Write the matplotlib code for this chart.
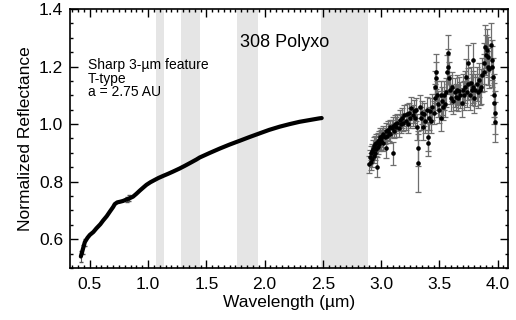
import numpy as np
import matplotlib
matplotlib.use("Agg")
import matplotlib.pyplot as plt
from matplotlib.ticker import MultipleLocator

plt.rcParams['font.family'] = ['Liberation Sans', 'DejaVu Sans']

# visible / near-IR spectrum (dense, small errors)
vis_wl = [0.423, 0.440, 0.457, 0.480, 0.500, 0.530, 0.557, 0.590, 0.614, 0.645,
          0.672, 0.700, 0.714, 0.735, 0.757, 0.785, 0.815, 0.840, 0.871, 0.900,
          0.929, 0.960, 0.986, 1.020, 1.057, 1.090, 1.129, 1.170, 1.214, 1.272,
          1.315, 1.370, 1.415, 1.443, 1.530, 1.615, 1.700, 1.786, 1.870, 1.958,
          2.040, 2.129, 2.215, 2.300, 2.385, 2.470, 2.490]
vis_refl = [0.540, 0.565, 0.590, 0.605, 0.615, 0.625, 0.638, 0.652, 0.665, 0.680,
            0.696, 0.712, 0.722, 0.728, 0.730, 0.733, 0.738, 0.742, 0.748, 0.758,
            0.769, 0.780, 0.789, 0.798, 0.806, 0.813, 0.820, 0.827, 0.835, 0.846,
            0.855, 0.867, 0.877, 0.884, 0.900, 0.915, 0.929, 0.942, 0.955, 0.968,
            0.980, 0.991, 1.000, 1.008, 1.014, 1.020, 1.021]
vis_err_wl = [0.423, 0.440, 0.457, 0.820, 0.840]
vis_err_refl = [0.540, 0.565, 0.590, 0.738, 0.742]
vis_err = [0.020, 0.015, 0.012, 0.010, 0.010]

# 3-um region (noisy, with error bars)
ir_wl = [2.900, 2.905, 2.910, 2.915, 2.920, 2.925, 2.930, 2.935, 2.940, 2.945,
         2.950, 2.955, 2.960, 2.965, 2.970, 2.975, 2.980, 2.985, 2.990, 2.995,
         3.000, 3.010, 3.015, 3.020, 3.030, 3.040, 3.045, 3.050, 3.060, 3.070,
         3.075, 3.080, 3.090, 3.100, 3.105, 3.110, 3.120, 3.130, 3.140, 3.150,
         3.160, 3.170, 3.180, 3.190, 3.200, 3.210, 3.220, 3.230, 3.240, 3.250,
         3.260, 3.270, 3.280, 3.290, 3.300, 3.310, 3.315, 3.320, 3.330, 3.340,
         3.350, 3.360, 3.370, 3.380, 3.390, 3.400, 3.405, 3.410, 3.420, 3.430,
         3.440, 3.450, 3.460, 3.465, 3.470, 3.475, 3.480, 3.490, 3.500, 3.510,
         3.515, 3.520, 3.530, 3.540, 3.550, 3.560, 3.565, 3.570, 3.575, 3.580,
         3.590, 3.600, 3.610, 3.620, 3.630, 3.640, 3.650, 3.660, 3.670, 3.680,
         3.690, 3.700, 3.710, 3.720, 3.730, 3.740, 3.745, 3.750, 3.760, 3.770,
         3.780, 3.785, 3.790, 3.800, 3.810, 3.820, 3.830, 3.840, 3.850, 3.860,
         3.870, 3.880, 3.885, 3.890, 3.900, 3.910, 3.915, 3.920, 3.930, 3.940,
         3.950, 3.955, 3.960, 3.965, 3.970, 3.975, 3.980]
ir_refl = [0.860, 0.885, 0.870, 0.900, 0.880, 0.905, 0.915, 0.890, 0.925, 0.900,
           0.930, 0.915, 0.935, 0.852, 0.940, 0.920, 0.945, 0.930, 0.955, 0.940,
           0.950, 0.960, 0.935, 0.965, 0.955, 0.916, 0.975, 0.960, 0.980, 0.970,
           0.990, 0.965, 0.985, 0.899, 0.995, 0.975, 1.000, 0.990, 1.005, 0.985,
           1.015, 1.000, 1.020, 1.005, 1.030, 1.010, 1.035, 1.000, 1.040, 1.020,
           1.055, 1.030, 1.045, 1.020, 1.050, 0.990, 0.864, 0.916, 1.060, 1.020,
           1.040, 0.990, 1.035, 1.010, 1.050, 0.956, 0.933, 1.020, 1.045, 1.010,
           1.060, 1.040, 1.090, 1.130, 1.182, 1.160, 1.100, 1.070, 1.050, 1.100,
           1.020, 1.080, 1.060, 1.100, 1.070, 1.110, 1.180, 1.246, 1.200, 1.160,
           1.120, 1.090, 1.130, 1.080, 1.110, 1.095, 1.120, 1.090, 1.115, 1.100,
           1.075, 1.120, 1.100, 1.130, 1.165, 1.110, 1.211, 1.140, 1.100, 1.142,
           1.120, 1.223, 1.130, 1.090, 1.118, 1.140, 1.110, 1.153, 1.120, 1.130,
           1.170, 1.211, 1.180, 1.269, 1.240, 1.257, 1.200, 1.234, 1.190, 1.275,
           1.223, 1.200, 1.165, 1.100, 1.072, 1.008, 1.040]
ir_err = [0.030, 0.025, 0.030, 0.025, 0.030, 0.025, 0.030, 0.025, 0.030, 0.025,
          0.030, 0.025, 0.030, 0.035, 0.030, 0.025, 0.030, 0.025, 0.030, 0.030,
          0.030, 0.025, 0.030, 0.030, 0.025, 0.035, 0.030, 0.025, 0.030, 0.030,
          0.025, 0.030, 0.030, 0.040, 0.030, 0.025, 0.030, 0.035, 0.030, 0.030,
          0.035, 0.030, 0.035, 0.030, 0.035, 0.030, 0.035, 0.030, 0.035, 0.035,
          0.040, 0.035, 0.040, 0.035, 0.040, 0.045, 0.100, 0.060, 0.040, 0.040,
          0.040, 0.045, 0.040, 0.040, 0.045, 0.050, 0.045, 0.040, 0.045, 0.040,
          0.045, 0.040, 0.050, 0.055, 0.060, 0.055, 0.050, 0.045, 0.045, 0.050,
          0.045, 0.050, 0.045, 0.050, 0.045, 0.050, 0.060, 0.065, 0.060, 0.055,
          0.050, 0.045, 0.050, 0.045, 0.050, 0.045, 0.050, 0.045, 0.050, 0.045,
          0.050, 0.055, 0.050, 0.055, 0.060, 0.050, 0.065, 0.055, 0.050, 0.055,
          0.055, 0.060, 0.055, 0.050, 0.055, 0.060, 0.055, 0.060, 0.055, 0.060,
          0.060, 0.070, 0.065, 0.075, 0.070, 0.075, 0.065, 0.070, 0.065, 0.075,
          0.070, 0.070, 0.065, 0.075, 0.070, 0.070, 0.075]

# telluric bands that are masked
bands = [(1.066, 1.135), (1.286, 1.443), (1.767, 1.947), (2.487, 2.887)]

fig = plt.figure(figsize=(5.16, 3.2), dpi=100)
ax = fig.add_axes([0.1357, 0.1625, 0.849, 0.8094])

for lo, hi in bands:
    ax.axvspan(lo, hi, color='#e5e5e5', lw=0, zorder=0)

ax.errorbar(vis_err_wl, vis_err_refl, yerr=vis_err, fmt='none', ecolor='#555555',
            elinewidth=0.8, capsize=1.5, zorder=2)
ax.plot(vis_wl, vis_refl, color='black', lw=3.0, solid_capstyle='round', zorder=3)

ax.errorbar(ir_wl, ir_refl, yerr=ir_err, fmt='none', ecolor='#6e6e6e',
            elinewidth=0.9, capsize=2.2, capthick=0.9, zorder=2)
ax.plot(ir_wl, ir_refl, 'o', color='black', ms=3.3, mew=0, zorder=3)

ax.set_xlim(0.33, 4.09)
ax.set_ylim(0.5, 1.4)
ax.xaxis.set_major_locator(MultipleLocator(0.5))
ax.xaxis.set_minor_locator(MultipleLocator(0.05))
ax.yaxis.set_major_locator(MultipleLocator(0.2))
ax.yaxis.set_minor_locator(MultipleLocator(0.05))
ax.tick_params(which='both', direction='in', top=True, right=True, width=1,
               labelsize=12.5, colors='black')
ax.tick_params(which='major', length=5.5, pad=5)
ax.tick_params(axis='x', which='major', pad=6.5)
ax.tick_params(which='minor', length=2.5)
for sp in ax.spines.values():
    sp.set_linewidth(1.2)

ax.set_xlabel('Wavelength (\u00b5m)', fontsize=12.5, labelpad=2)
ax.set_ylabel('Normalized Reflectance', fontsize=12.5, labelpad=4)

ax.text(1.786, 1.285, '308 Polyxo', fontsize=13, ha='left', va='center')
ax.text(0.041, 0.81, 'Sharp 3-\u00b5m feature\nT-type\na = 2.75 AU',
        transform=ax.transAxes, fontsize=10, ha='left', va='top', linespacing=0.95)

fig.savefig('out.png', dpi=100)
